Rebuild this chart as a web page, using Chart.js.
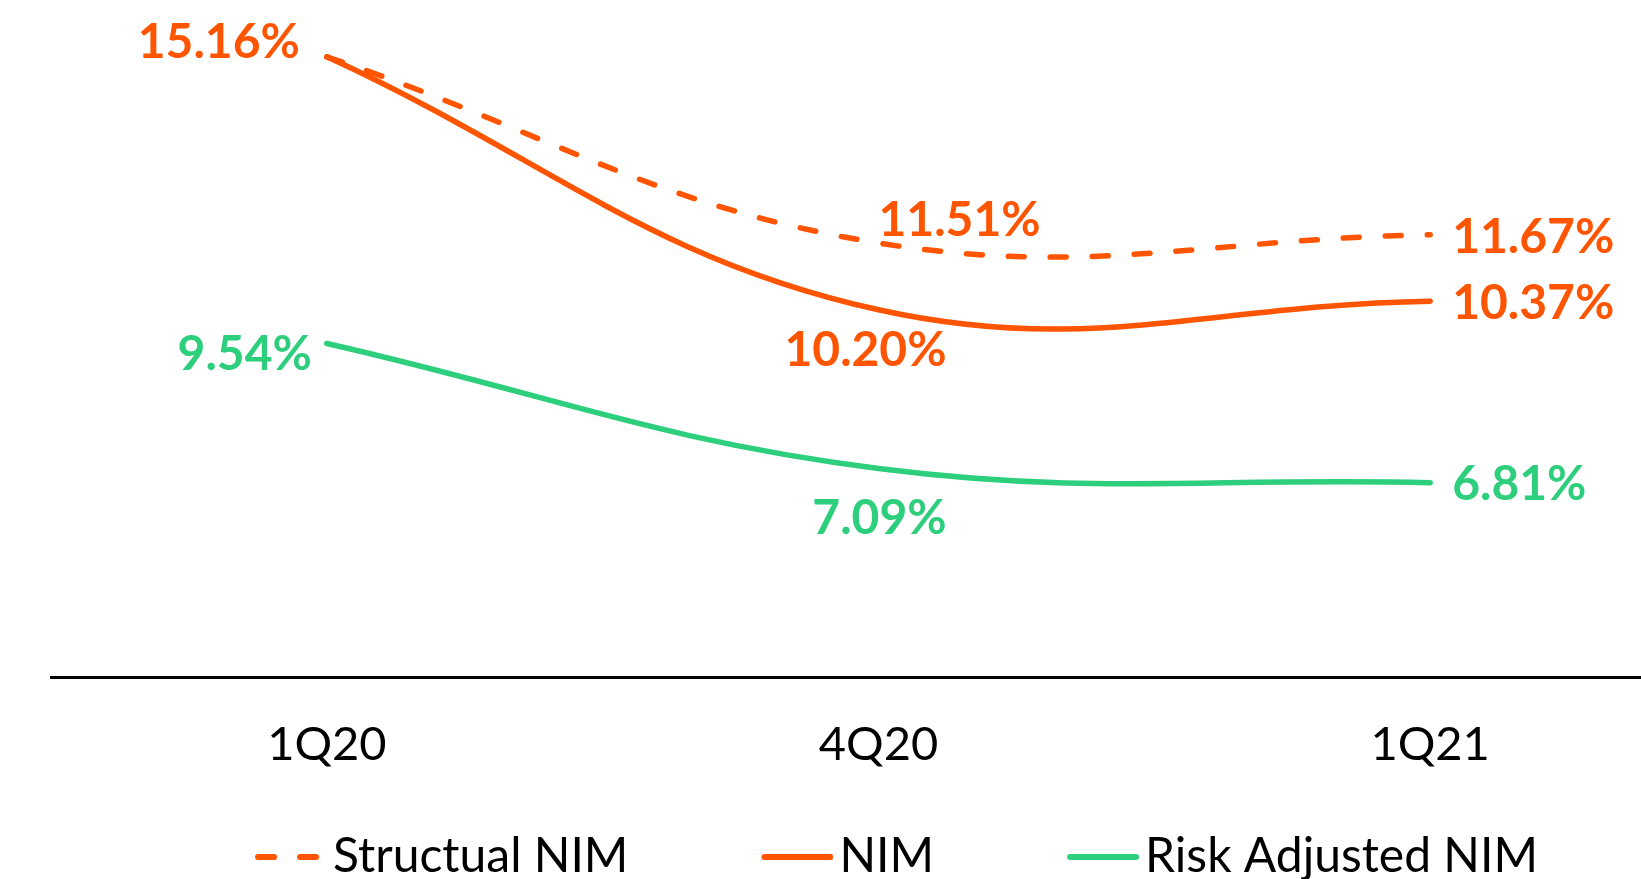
<!DOCTYPE html>
<html>
<head>
<meta charset="utf-8">
<title>NIM</title>
<script src="https://cdn.jsdelivr.net/npm/chart.js@4.4.1/dist/chart.umd.min.js"></script>
<style>
  html, body { margin: 0; padding: 0; overflow: hidden; background: #ffffff; }
  #wrap { position: absolute; left: 0; top: 0; }
</style>
</head>
<body>
<div id="wrap"><canvas id="c" width="1742" height="891"></canvas></div>
<script>
// ---- data ----
const quarters = ['1Q20', '4Q20', '1Q21'];
const seriesNames = ['Structual NIM', 'NIM', 'Risk Adjusted NIM'];
const structuralNim = [15.16, 11.51, 11.67];
const nim = [15.16, 10.20, 10.37];
const riskAdjustedNim = [9.54, 7.09, 6.81];

// ---- look ----
const ORANGE = '#FF5400';
const GREEN = '#2DCE7C';
const FONT = 'Lato';

// where each value label sits relative to its point (null = no label)
const labelPlacement = [
  [null, { align: 'left', dx: 0, dy: -22 }, { align: 'left', dx: 22, dy: 3 }],
  [{ align: 'right', dx: -27, dy: -14 }, { align: 'center', dx: -13, dy: 41 }, { align: 'left', dx: 22, dy: 2 }],
  [{ align: 'right', dx: -15, dy: 11 }, { align: 'center', dx: 1, dy: 50 }, { align: 'left', dx: 22, dy: 2 }]
];

const valueLabels = {
  id: 'valueLabels',
  afterDatasetsDraw(chart) {
    const ctx = chart.ctx;
    ctx.save();
    ctx.font = 'bold 48px ' + FONT;
    ctx.textBaseline = 'middle';
    chart.data.datasets.forEach((ds, di) => {
      const meta = chart.getDatasetMeta(di);
      meta.data.forEach((pt, i) => {
        const p = labelPlacement[di][i];
        if (!p) return;
        ctx.fillStyle = ds.borderColor;
        ctx.textAlign = p.align;
        ctx.fillText(ds.data[i].toFixed(2) + '%', pt.x + p.dx, pt.y + p.dy);
      });
    });
    ctx.restore();
  }
};

// legend symbol: a short stroke in the series' colour and dash, sitting close to its text
const LEGEND_BOX = 54;
function legendSymbol(color, dash) {
  const c = document.createElement('canvas');
  c.width = 90;
  c.height = 10;
  const g = c.getContext('2d');
  g.strokeStyle = color;
  g.lineWidth = 6;
  g.lineCap = 'round';
  g.setLineDash(dash || []);
  g.beginPath();
  g.moveTo(21, 5);
  g.lineTo(dash && dash.length ? 83 : 87, 5);
  g.stroke();
  return c;
}

function build() {
  new Chart(document.getElementById('c'), {
    type: 'line',
    data: {
      labels: quarters,
      datasets: [
        { label: seriesNames[0], data: structuralNim, borderColor: ORANGE, backgroundColor: ORANGE,
          borderWidth: 5.5, borderDash: [16, 26], borderCapStyle: 'round', tension: 0.4, pointRadius: 0 },
        { label: seriesNames[1], data: nim, borderColor: ORANGE, backgroundColor: ORANGE,
          borderWidth: 5.5, borderCapStyle: 'round', tension: 0.4, pointRadius: 0 },
        { label: seriesNames[2], data: riskAdjustedNim, borderColor: GREEN, backgroundColor: GREEN,
          borderWidth: 5.5, borderCapStyle: 'round', tension: 0.4, pointRadius: 0 }
      ]
    },
    options: {
      responsive: false,
      animation: false,
      devicePixelRatio: 1,
      layout: { padding: { left: 51, top: 14, right: 0, bottom: 0 } },
      scales: {
        x: {
          offset: true,
          grid: { display: false, drawTicks: false },
          border: { display: true, color: '#000000', width: 3 },
          // labels hang below the axis line into the space above the legend
          ticks: { color: '#000000', font: { family: FONT, size: 47 }, mirror: true, padding: -96, maxRotation: 0 },
          afterFit(s) { s.height = 23; }
        },
        y: {
          position: 'right',
          min: 3,
          max: 16,
          grid: { display: false, drawTicks: false },
          border: { display: false },
          ticks: { display: false },
          afterFit(s) { s.width = 36; }
        }
      },
      plugins: {
        tooltip: { enabled: false },
        legend: {
          position: 'bottom',
          labels: {
            usePointStyle: true,
            pointStyleWidth: LEGEND_BOX,
            color: '#000000',
            font: { family: FONT, size: 48 },
            padding: 133,
            generateLabels(chart) {
              const items = Chart.defaults.plugins.legend.labels.generateLabels(chart);
              return items.map(it => {
                const ds = chart.data.datasets[it.datasetIndex];
                return Object.assign(it, { pointStyle: legendSymbol(ds.borderColor, ds.borderDash) });
              });
            }
          }
        }
      }
    },
    plugins: [valueLabels]
  });
}

if (document.fonts && document.fonts.load) {
  Promise.all([
    document.fonts.load('47px ' + FONT),
    document.fonts.load('bold 48px ' + FONT)
  ]).then(build, build);
} else {
  build();
}
</script>
</body>
</html>
